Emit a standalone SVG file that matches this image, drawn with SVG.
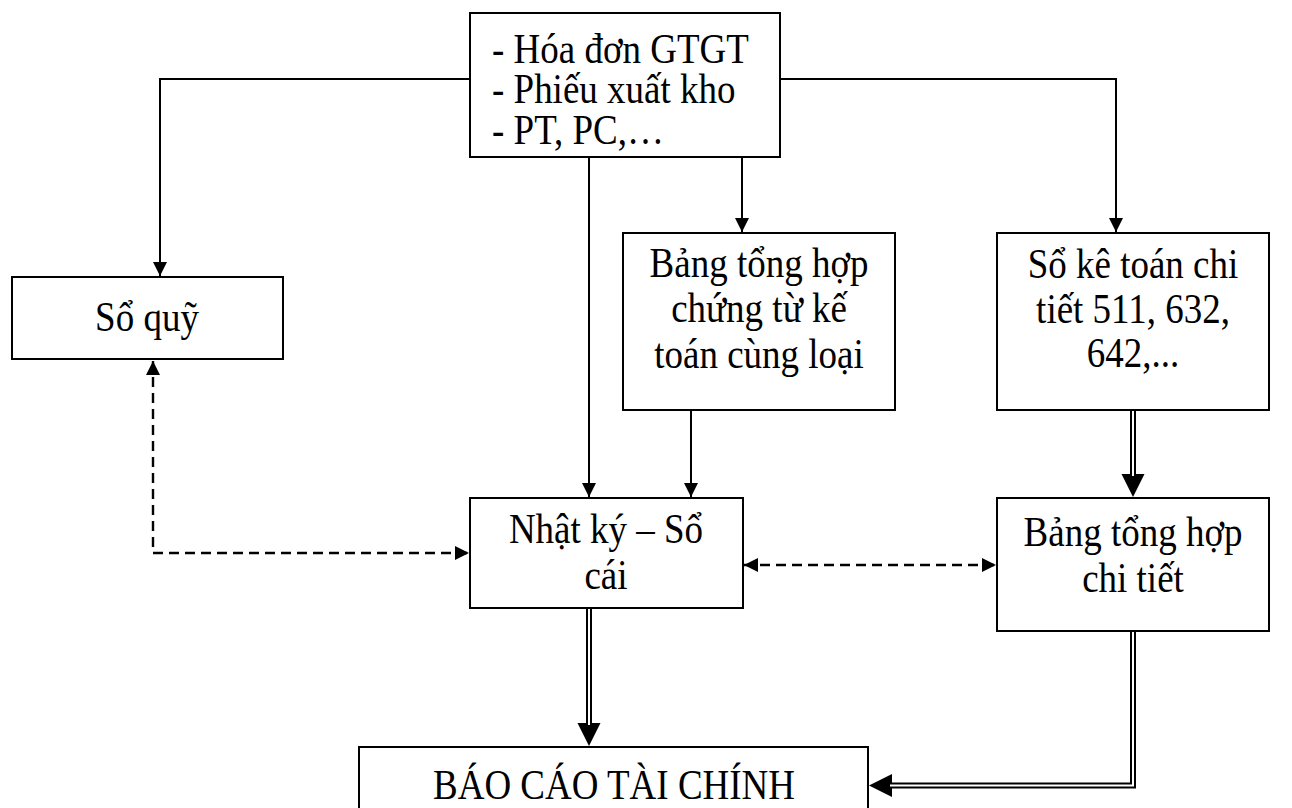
<svg xmlns="http://www.w3.org/2000/svg" width="1292" height="808" viewBox="0 0 1292 808">
  <style>
    .box { fill: #fff; stroke: #000; stroke-width: 2; }
    .t { font-family: "Liberation Serif", "Times New Roman", serif; font-size: 37px; fill: #000; }
    .c { text-anchor: middle; }
    .ln { fill: none; stroke: #000; stroke-width: 2; }
    .dash { fill: none; stroke: #000; stroke-width: 2.4; stroke-dasharray: 10 6; }
    .dbl-out { fill: none; stroke: #000; stroke-width: 6; }
    .dbl-in { fill: none; stroke: #fff; stroke-width: 2; }
  </style>
  <defs>
    <marker id="arr" markerUnits="userSpaceOnUse" markerWidth="14" markerHeight="14" refX="14" refY="7" orient="auto-start-reverse">
      <path d="M0,0 L14,7 L0,14 z" fill="#000"/>
    </marker>
    <marker id="big" markerUnits="userSpaceOnUse" markerWidth="24" markerHeight="24" refX="3" refY="11.5" orient="auto">
      <path d="M0,0 L23,11.5 L0,23 z" fill="#000"/>
    </marker>
  </defs>

  <rect width="1292" height="808" fill="#fff"/>

  <g id="connectors">
    <!-- from source documents -->
    <path class="ln" d="M470,79 H160 V276" marker-end="url(#arr)"/>
    <path class="ln" d="M780,79 H1116 V232" marker-end="url(#arr)"/>
    <path class="ln" d="M589,157 V497" marker-end="url(#arr)"/>
    <path class="ln" d="M742,157 V232" marker-end="url(#arr)"/>
    <path class="ln" d="M691,410 V497" marker-end="url(#arr)"/>
    <!-- reconciliation (dashed, two-way) -->
    <path class="dash" d="M153,361 V553 H469" marker-start="url(#arr)" marker-end="url(#arr)"/>
    <path class="dash" d="M744,565 H996" marker-start="url(#arr)" marker-end="url(#arr)"/>
    <!-- double-line flows -->
    <path class="dbl-out" d="M1133,410 V477" marker-end="url(#big)"/>
    <path class="dbl-in" d="M1133,409 V476"/>
    <path class="dbl-out" d="M589,608 V726" marker-end="url(#big)"/>
    <path class="dbl-in" d="M589,607 V725"/>
    <path class="dbl-out" d="M1133,631 V785.5 H889" marker-end="url(#big)"/>
    <path class="dbl-in" d="M1133,630 V785.5 H890"/>
  </g>

  <!-- text is set slightly tall: translate(x, baseline) then scale(1, 1.12) -->
  <g id="chung-tu">
    <rect class="box" x="470" y="13" width="310" height="144"/>
    <text class="t" transform="translate(492,63) scale(1,1.12)">- Hóa đơn GTGT</text>
    <text class="t" transform="translate(492,103) scale(1,1.12)">- Phiếu xuất kho</text>
    <text class="t" transform="translate(492,144) scale(1,1.12)">- PT, PC,…</text>
  </g>

  <g id="so-quy">
    <rect class="box" x="12" y="277" width="271" height="82"/>
    <text class="t c" transform="translate(147,331) scale(1,1.12)">Sổ quỹ</text>
  </g>

  <g id="bang-tong-hop-chung-tu">
    <rect class="box" x="623" y="233" width="272" height="177"/>
    <text class="t c" transform="translate(759,277) scale(1,1.12)">Bảng tổng hợp</text>
    <text class="t c" transform="translate(759,322) scale(1,1.12)">chứng từ kế</text>
    <text class="t c" transform="translate(759,368) scale(1,1.12)">toán cùng loại</text>
  </g>

  <g id="so-ke-toan-chi-tiet">
    <rect class="box" x="997" y="233" width="272" height="177"/>
    <text class="t c" transform="translate(1133,278) scale(1,1.12)">Sổ kê toán chi</text>
    <text class="t c" transform="translate(1133,323) scale(1,1.12)">tiết 511, 632,</text>
    <text class="t c" transform="translate(1133,367) scale(1,1.12)">642,...</text>
  </g>

  <g id="nhat-ky-so-cai">
    <rect class="box" x="470" y="498" width="273" height="110"/>
    <text class="t c" transform="translate(606,543) scale(1,1.12)">Nhật ký – Sổ</text>
    <text class="t c" transform="translate(606,589) scale(1,1.12)">cái</text>
  </g>

  <g id="bang-tong-hop-chi-tiet">
    <rect class="box" x="997" y="498" width="272" height="133"/>
    <text class="t c" transform="translate(1133,546) scale(1,1.12)">Bảng tổng hợp</text>
    <text class="t c" transform="translate(1133,592) scale(1,1.12)">chi tiết</text>
  </g>

  <g id="bao-cao-tai-chinh">
    <rect class="box" x="359" y="747" width="509" height="80"/>
    <text class="t c" transform="translate(614,799) scale(1,1.12)">BÁO CÁO TÀI CHÍNH</text>
  </g>
</svg>
